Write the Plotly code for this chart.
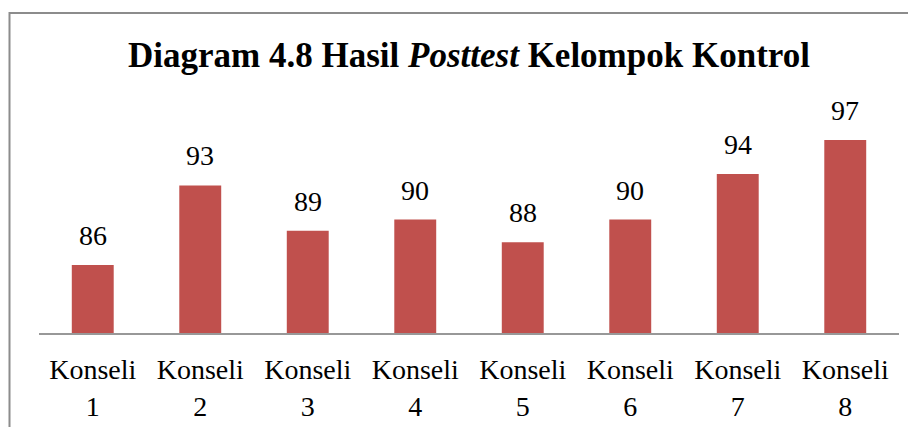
import plotly.graph_objects as go

categories = ["Konseli<br>1", "Konseli<br>2", "Konseli<br>3", "Konseli<br>4",
              "Konseli<br>5", "Konseli<br>6", "Konseli<br>7", "Konseli<br>8"]
values = [86, 93, 89, 90, 88, 90, 94, 97]

# page body has an 8px default margin; figure coordinates are page - 8
OFF = 8
W, H = 916, 427
ml = 39 - OFF
mt = 106 - OFF
mr = W - (899 - OFF)
mb = H - (333 - OFF)
pw = W - ml - mr
ph = H - mt - mb

def px_x(p):
    return (p - OFF - ml) / pw

def px_y(p):
    return (H - mb - (p - OFF)) / ph

serif = "Liberation Serif"

fig = go.Figure()
fig.add_trace(go.Bar(
    x=categories, y=values,
    marker=dict(color="#C0504D", line=dict(width=0)),
    width=0.39,
    hoverinfo="skip",
))

for c, v in zip(categories, values):
    fig.add_annotation(x=c, y=v, text=str(v), showarrow=False,
                       yanchor="bottom", yshift=12,
                       font=dict(family=serif, size=28, color="black"))

fig.update_layout(
    width=W, height=H,
    margin=dict(l=ml, r=mr, t=mt, b=mb),
    paper_bgcolor="white", plot_bgcolor="white",
    showlegend=False,
    title=dict(text="<b>Diagram 4.8 Hasil <i>Posttest</i> Kelompok Kontrol</b>",
               x=0.5, xref="paper", xanchor="center",
               y=1 - 34 / H, yref="container", yanchor="top",
               font=dict(family=serif, size=35, color="black")),
    xaxis=dict(showline=True, linecolor="#989898", linewidth=1.5,
               ticks="", showgrid=False, zeroline=False,
               ticklabelstandoff=11,
               tickfont=dict(family=serif, size=28, color="black"),
               fixedrange=True),
    yaxis=dict(range=[80, 100], visible=False, fixedrange=True),
    shapes=[dict(type="rect", xref="paper", yref="paper",
                 x0=px_x(9.5), x1=px_x(940), y0=px_y(13), y1=px_y(460),
                 line=dict(color="#8c8c8c", width=2), fillcolor="rgba(0,0,0,0)",
                 layer="above")],
)

fig.write_html("out.html")
